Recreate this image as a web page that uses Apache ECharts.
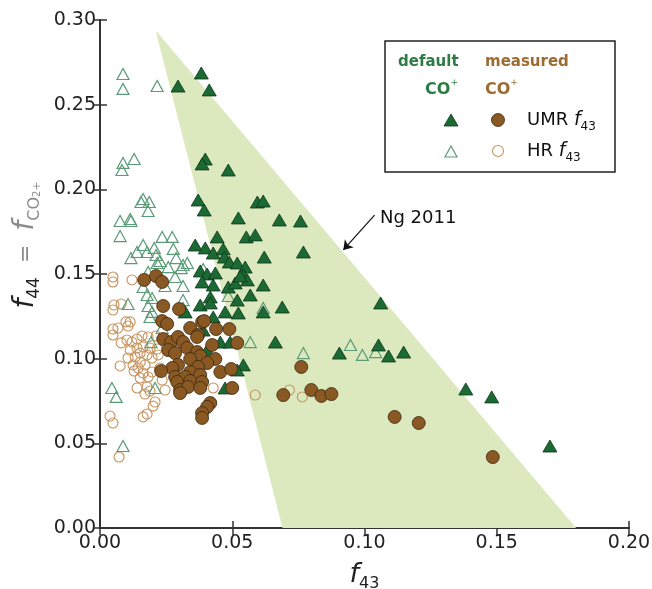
<!DOCTYPE html>
<html>
<head>
<meta charset="utf-8">
<title>f44 vs f43</title>
<script src="https://cdn.jsdelivr.net/npm/echarts@6/dist/echarts.min.js"></script>
<style>
  html, body { margin: 0; padding: 0; background: #fff; }
  #chart { width: 652px; height: 589px; }
</style>
</head>
<body>
<div id="chart"></div>
<script>
// axis ticks
var xTicks = [0, 0.05, 0.10, 0.15, 0.20];
var yTicks = [0, 0.05, 0.10, 0.15, 0.20, 0.25, 0.30];

// Ng 2011 triangle corners [f43, f44]
var ngTriangle = [[0.021, 0.294], [0.069, 0], [0.180, 0]];

// default CO+, UMR f43 (filled triangles)
var umrDefault = [
  [0.0295,0.261],[0.0383,0.2687],[0.0413,0.2587],[0.0398,0.2179],[0.0386,0.215],[0.0485,0.2114],
  [0.0371,0.1937],[0.0394,0.1878],[0.0523,0.1831],[0.0595,0.1925],[0.0617,0.1931],[0.0678,0.1819],
  [0.0758,0.1813],[0.0769,0.163],[0.0443,0.1719],[0.0553,0.1719],[0.0587,0.1731],[0.036,0.1671],
  [0.0398,0.1654],[0.0428,0.1624],[0.0466,0.1648],[0.047,0.16],[0.0489,0.1571],[0.0519,0.1565],
  [0.0549,0.1541],[0.0621,0.16],[0.0379,0.1518],[0.0405,0.15],[0.0436,0.1506],[0.0542,0.1494],
  [0.0557,0.1465],[0.0617,0.1435],[0.0428,0.1435],[0.0485,0.1423],[0.0511,0.1447],[0.0417,0.1364],
  [0.0568,0.1376],[0.0519,0.1346],[0.0617,0.1276],[0.0689,0.1305],[0.0379,0.1317],[0.0417,0.1329],
  [0.0322,0.1276],[0.0473,0.1276],[0.0523,0.127],[0.0428,0.1246],[0.039,0.1169],[0.0455,0.1098],
  [0.0492,0.1098],[0.0663,0.1098],[0.0405,0.1051],[0.0542,0.0963],[0.0519,0.0933],[0.0473,0.0827],
  [0.1061,0.1329],[0.1053,0.1081],[0.0905,0.1033],[0.1091,0.1016],[0.1148,0.1039],[0.1383,0.0821],
  [0.1481,0.0774],[0.1701,0.0484],[0.053,0.1488],[0.0386,0.1453]
];

// default CO+, HR f43 (open triangles)
var hrDefault = [
  [0.0087,0.2681],[0.0087,0.2593],[0.0216,0.261],[0.0087,0.2156],[0.0083,0.2114],[0.0129,0.2179],
  [0.0155,0.1925],[0.0186,0.1925],[0.0182,0.1872],[0.0163,0.1943],[0.0076,0.1813],[0.0114,0.1825],
  [0.0117,0.1813],[0.0076,0.1724],[0.0235,0.1719],[0.0273,0.1719],[0.0163,0.1671],[0.0205,0.1654],
  [0.014,0.163],[0.0178,0.163],[0.0277,0.1648],[0.0216,0.1565],[0.0227,0.1577],[0.0117,0.1594],
  [0.0258,0.1541],[0.0314,0.1553],[0.0307,0.1535],[0.0288,0.1594],[0.0314,0.1429],[0.0246,0.1429],
  [0.039,0.153],[0.0212,0.1612],[0.0182,0.1512],[0.0284,0.1482],[0.033,0.1565],[0.0163,0.1423],
  [0.0106,0.1323],[0.0178,0.1376],[0.0197,0.1358],[0.0182,0.1311],[0.0197,0.1276],[0.0189,0.1246],
  [0.0314,0.1346],[0.0235,0.1181],[0.0193,0.1098],[0.0045,0.0827],[0.0061,0.0774],[0.0208,0.0827],
  [0.0568,0.1098],[0.0769,0.1033],[0.0087,0.0484],[0.0485,0.137],[0.0617,0.1299],[0.0947,0.1081],
  [0.0992,0.1022],[0.1042,0.1039],[0.0314,0.1299]
];

// measured CO+, UMR f43 (filled circles)
var umrMeasured = [
  [0.0167,0.1465],[0.0212,0.1488],[0.0235,0.1453],[0.0239,0.1311],[0.0299,0.1293],[0.0235,0.1222],
  [0.0254,0.1205],[0.0341,0.1181],[0.0386,0.1217],[0.0439,0.1175],[0.0489,0.1175],[0.0239,0.1116],
  [0.0269,0.1098],[0.0295,0.1128],[0.0314,0.1098],[0.0371,0.114],[0.0424,0.1081],[0.0519,0.1093],
  [0.0258,0.1051],[0.0284,0.1033],[0.033,0.1063],[0.0367,0.1039],[0.0379,0.1016],[0.0341,0.0998],
  [0.0436,0.0998],[0.0405,0.0974],[0.0295,0.0963],[0.0273,0.0945],[0.0231,0.0927],[0.0371,0.0951],
  [0.0341,0.0921],[0.0455,0.0921],[0.0496,0.0939],[0.0284,0.0892],[0.0322,0.0892],[0.0379,0.0904],
  [0.0292,0.0862],[0.0341,0.0868],[0.0386,0.0862],[0.0303,0.0815],[0.0333,0.0833],[0.0379,0.0827],
  [0.0303,0.0797],[0.05,0.0827],[0.0417,0.0738],[0.0405,0.0715],[0.0386,0.0679],[0.0386,0.065],
  [0.0761,0.0951],[0.0693,0.0785],[0.0799,0.0815],[0.0837,0.078],[0.0875,0.0791],[0.1114,0.0656],
  [0.1205,0.062],[0.1485,0.0419],[0.0394,0.1222],[0.0367,0.1128]
];

// measured CO+, HR f43 (open circles)
var hrMeasured = [
  [0.0049,0.1482],[0.0049,0.1453],[0.0121,0.1465],[0.0053,0.1317],[0.0049,0.1287],[0.008,0.1323],
  [0.0098,0.1217],[0.0114,0.1217],[0.0106,0.1193],[0.0049,0.1175],[0.0068,0.1181],[0.0049,0.114],
  [0.008,0.1093],[0.0102,0.111],[0.0121,0.1098],[0.014,0.1116],[0.0159,0.1134],[0.0182,0.1128],
  [0.0212,0.1134],[0.0114,0.1051],[0.014,0.1063],[0.0163,0.1069],[0.0189,0.1063],[0.0216,0.1057],
  [0.0106,0.1004],[0.0133,0.101],[0.0152,0.1033],[0.0178,0.1022],[0.0197,0.1004],[0.022,0.1022],
  [0.0125,0.0963],[0.0152,0.098],[0.017,0.0963],[0.0144,0.0945],[0.0076,0.0957],[0.0129,0.0927],
  [0.0163,0.0915],[0.0197,0.0921],[0.0152,0.0886],[0.0182,0.0892],[0.014,0.0827],[0.0178,0.0833],
  [0.0189,0.0809],[0.017,0.0791],[0.0208,0.0744],[0.0201,0.072],[0.0178,0.0673],[0.0163,0.0656],
  [0.0038,0.0661],[0.0049,0.062],[0.0072,0.0419],[0.0246,0.0815],[0.0428,0.0827],[0.0587,0.0785],
  [0.0716,0.0815],[0.0765,0.0774],[0.0227,0.0945],[0.0235,0.0874]
];

var green = '#1b6a34';
var greenOpen = '#5b9c77';
var brown = '#8a5822';
var brownOpen = '#c7925c';
var font = 'DejaVu Sans';

var chart = echarts.init(document.getElementById('chart'));

var fmt = function (v) { return v.toFixed(2); };

chart.setOption({
  animation: false,
  backgroundColor: '#fff',
  grid: { left: 100, right: 23, top: 20, bottom: 61, containLabel: false, outerBoundsMode: 'none' },
  xAxis: [{
    type: 'value',
    min: xTicks[0],
    max: xTicks[xTicks.length - 1],
    interval: 0.05,
    name: '{f|f}{s|43}',
    nameLocation: 'middle',
    nameGap: 30,
    nameTextStyle: {
      rich: {
        f: { fontFamily: font, fontStyle: 'italic', fontSize: 27, lineHeight: 34, color: '#222', verticalAlign: 'middle' },
        s: { fontFamily: font, fontSize: 16, lineHeight: 16, color: '#222', verticalAlign: 'bottom' }
      }
    },
    axisLine: { lineStyle: { color: '#333', width: 2 } },
    axisTick: { inside: true, length: 7, lineStyle: { color: '#333', width: 1.5 } },
    axisLabel: { formatter: fmt, fontFamily: font, fontSize: 19, color: '#222', margin: 6 },
    splitLine: { show: false }
  }, {
    type: 'value',
    position: 'top',
    min: xTicks[0],
    max: xTicks[xTicks.length - 1],
    interval: 0.05,
    axisLine: { lineStyle: { color: '#333', width: 1.5 } },
    axisTick: { inside: true, length: 7, lineStyle: { color: '#333', width: 1.5 } },
    axisLabel: { show: false },
    splitLine: { show: false }
  }],
  yAxis: [{
    type: 'value',
    min: yTicks[0],
    max: yTicks[yTicks.length - 1],
    interval: 0.05,
    name: '{f|f}{s|44}{g|  =  }{gf|f}{gs|CO}{g2|2}{gp|+}',
    nameLocation: 'middle',
    nameGap: 56,
    nameTextStyle: {
      padding: [0, 0, 0, 58],
      rich: {
        f: { fontFamily: font, fontStyle: 'italic', fontSize: 28, lineHeight: 34, color: '#222', verticalAlign: 'middle' },
        s: { fontFamily: font, fontSize: 17, lineHeight: 16, color: '#222', verticalAlign: 'bottom' },
        g: { fontFamily: font, fontSize: 22, lineHeight: 34, color: '#8a8a8a', verticalAlign: 'middle' },
        gf: { fontFamily: font, fontStyle: 'italic', fontSize: 28, lineHeight: 34, color: '#8a8a8a', verticalAlign: 'middle' },
        gs: { fontFamily: font, fontSize: 16, lineHeight: 17, color: '#8a8a8a', verticalAlign: 'bottom' },
        g2: { fontFamily: font, fontSize: 10, lineHeight: 9, color: '#8a8a8a', verticalAlign: 'bottom' },
        gp: { fontFamily: font, fontSize: 11, lineHeight: 32, color: '#8a8a8a', verticalAlign: 'bottom' }
      }
    },
    axisLine: { lineStyle: { color: '#333', width: 2 } },
    axisTick: { inside: true, length: 7, lineStyle: { color: '#333', width: 1.5 } },
    axisLabel: { formatter: fmt, fontFamily: font, fontSize: 19, color: '#222', margin: 4 },
    splitLine: { show: false }
  }, {
    type: 'value',
    position: 'right',
    min: yTicks[0],
    max: yTicks[yTicks.length - 1],
    interval: 0.05,
    axisLine: { lineStyle: { color: '#333', width: 1.5 } },
    axisTick: { inside: true, length: 7, lineStyle: { color: '#333', width: 1.5 } },
    axisLabel: { show: false },
    splitLine: { show: false }
  }],
  series: [{
    name: 'Ng 2011',
    type: 'custom',
    silent: true,
    z: 1,
    data: ngTriangle,
    encode: { x: 0, y: 1 },
    renderItem: function (params, api) {
      if (params.dataIndex !== 0) return;
      var pts = ngTriangle.map(function (p) { return api.coord(p); });
      return { type: 'polygon', shape: { points: pts }, style: { fill: '#dce9bf' } };
    }
  }, {
    name: 'HR measured',
    type: 'scatter',
    z: 2,
    symbol: 'circle',
    symbolSize: 10,
    data: hrMeasured,
    itemStyle: { color: 'rgba(0,0,0,0)', borderColor: brownOpen, borderWidth: 1.1, opacity: 1 }
  }, {
    name: 'HR default',
    type: 'scatter',
    z: 3,
    symbol: 'triangle',
    symbolSize: [12, 11],
    data: hrDefault,
    itemStyle: { color: 'rgba(0,0,0,0)', borderColor: greenOpen, borderWidth: 1.2, opacity: 1 },
    markLine: {
      silent: true,
      symbol: ['none', 'arrow'],
      symbolSize: 9,
      label: { show: false },
      lineStyle: { color: '#111', width: 1.2, type: 'solid', opacity: 1 },
      data: [[{ coord: [0.1038, 0.1848] }, { coord: [0.0920, 0.1642] }]]
    }
  }, {
    name: 'UMR default',
    type: 'scatter',
    z: 4,
    symbol: 'triangle',
    symbolSize: [14, 12],
    data: umrDefault,
    itemStyle: { color: green, borderColor: '#0c3419', borderWidth: 0.8, opacity: 1 }
  }, {
    name: 'UMR measured',
    type: 'scatter',
    z: 5,
    symbol: 'circle',
    symbolSize: 13,
    data: umrMeasured,
    itemStyle: { color: brown, borderColor: '#3a2710', borderWidth: 0.8, opacity: 1 }
  }],
  graphic: [
    { type: 'text', left: 380, top: 209, z: 10,
      style: { text: 'Ng 2011', fontFamily: font, fontSize: 18, fill: '#111' } },
    { type: 'rect', z: 10, shape: { x: 385, y: 41, width: 230, height: 131 },
      style: { fill: '#fff', stroke: '#222', lineWidth: 1.5 } },
    { type: 'text', z: 11, x: 398, y: 62,
      style: { text: 'default', fontFamily: font, fontWeight: 'bold', fontSize: 15, fill: '#2d7b45', verticalAlign: 'middle' } },
    { type: 'text', z: 11, x: 485, y: 62,
      style: { text: 'measured', fontFamily: font, fontWeight: 'bold', fontSize: 15, fill: '#9b6b30', verticalAlign: 'middle' } },
    { type: 'text', z: 11, x: 458, y: 88,
      style: { text: '{c|CO}{p|+}', align: 'right', verticalAlign: 'middle',
        rich: { c: { fontFamily: font, fontWeight: 'bold', fontSize: 16, lineHeight: 20, fill: '#2d7b45', verticalAlign: 'bottom' },
                p: { fontFamily: font, fontSize: 9, lineHeight: 20, fill: '#2d7b45', verticalAlign: 'top' } } } },
    { type: 'text', z: 11, x: 485, y: 88,
      style: { text: '{c|CO}{p|+}', verticalAlign: 'middle',
        rich: { c: { fontFamily: font, fontWeight: 'bold', fontSize: 16, lineHeight: 20, fill: '#9b6b30', verticalAlign: 'bottom' },
                p: { fontFamily: font, fontSize: 9, lineHeight: 20, fill: '#9b6b30', verticalAlign: 'top' } } } },
    { type: 'polygon', z: 11, shape: { points: [[444, 126], [458, 126], [451, 114]] },
      style: { fill: green, stroke: '#0c3419', lineWidth: 0.8 } },
    { type: 'circle', z: 11, shape: { cx: 498, cy: 120, r: 6.5 },
      style: { fill: brown, stroke: '#3a2710', lineWidth: 0.8 } },
    { type: 'polygon', z: 11, shape: { points: [[445, 157], [457, 157], [451, 146]] },
      style: { fill: 'none', stroke: greenOpen, lineWidth: 1.2 } },
    { type: 'circle', z: 11, shape: { cx: 498, cy: 151, r: 5.5 },
      style: { fill: 'none', stroke: brownOpen, lineWidth: 1.1 } },
    { type: 'text', z: 11, x: 527, y: 120,
      style: { text: '{t|UMR }{f|f}{s|43}', verticalAlign: 'middle',
        rich: { t: { fontFamily: font, fontSize: 18, lineHeight: 26, fill: '#111', verticalAlign: 'middle' },
                f: { fontFamily: font, fontStyle: 'italic', fontSize: 19, lineHeight: 26, fill: '#111', verticalAlign: 'middle' },
                s: { fontFamily: font, fontSize: 12, lineHeight: 12, fill: '#111', verticalAlign: 'bottom' } } } },
    { type: 'text', z: 11, x: 527, y: 151,
      style: { text: '{t|HR }{f|f}{s|43}', verticalAlign: 'middle',
        rich: { t: { fontFamily: font, fontSize: 18, lineHeight: 26, fill: '#111', verticalAlign: 'middle' },
                f: { fontFamily: font, fontStyle: 'italic', fontSize: 19, lineHeight: 26, fill: '#111', verticalAlign: 'middle' },
                s: { fontFamily: font, fontSize: 12, lineHeight: 12, fill: '#111', verticalAlign: 'bottom' } } } }
  ]
});
</script>
</body>
</html>
